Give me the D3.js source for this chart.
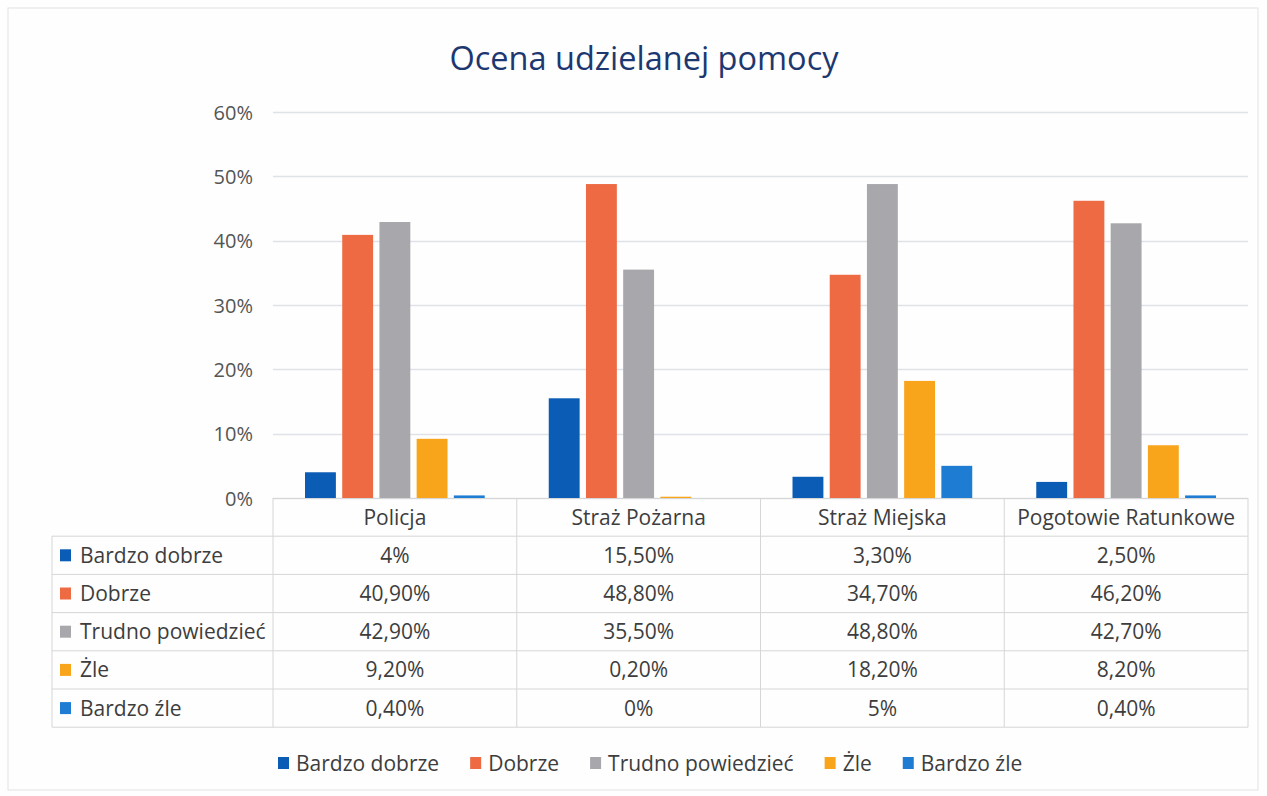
<!DOCTYPE html>
<html lang="pl">
<head>
<meta charset="utf-8">
<script src="https://d3js.org/d3.v7.min.js"></script>
<title>Ocena udzielanej pomocy</title>
<style>
    body { margin: 0; background: #fefefe; }
    text { font-family: "Open Sans", Lato, sans-serif; }
</style>
</head>
<body>
<div id="container"></div>
<script>
    // dane
    var categories = ["Policja", "Straż Pożarna", "Straż Miejska", "Pogotowie Ratunkowe"];
    var seriesNames = ["Bardzo dobrze", "Dobrze", "Trudno powiedzieć", "Żle", "Bardzo źle"];
    var bardzoDobrze = [4, 15.5, 3.3, 2.5];
    var dobrze = [40.9, 48.8, 34.7, 46.2];
    var trudno = [42.9, 35.5, 48.8, 42.7];
    var zle = [9.2, 0.2, 18.2, 8.2];
    var bardzoZle = [0.4, 0, 5, 0.4];
    var yTicks = [0, 10, 20, 30, 40, 50, 60];
    var colors = ["#0b5cb5", "#ed6a43", "#a8a7ab", "#f8a51c", "#1e7dd3"];

    var seriesValues = [bardzoDobrze, dobrze, trudno, zle, bardzoZle];

    var width = 1267, height = 796;
    var plot = {left: 273, right: 1248, top: 112, bottom: 498};
    var tableLeft = 52, rowH = 38.2;
    var fontSize = "21px";
    var textColor = "#3d3d3d";

    var svg = d3.select("#container")
        .append("svg")
        .attr("width", width)
        .attr("height", height);

    // ramka
    svg.append("rect")
        .attr("x", 8).attr("y", 8)
        .attr("width", 1250).attr("height", 782)
        .attr("fill", "none")
        .attr("stroke", "#e2e2e2");

    svg.append("text")
        .attr("x", 644).attr("y", 70)
        .attr("text-anchor", "middle")
        .attr("fill", "#1d3870")
        .style("font-size", "32.5px")
        .text("Ocena udzielanej pomocy");

    var y = d3.scaleLinear()
        .domain([0, 60])
        .range([plot.bottom, plot.top]);

    var x0 = d3.scaleBand()
        .domain(categories)
        .range([plot.left, plot.right]);

    var x1 = d3.scaleBand()
        .domain(seriesNames)
        .range([0, x0.bandwidth()])
        .paddingInner(0.17)
        .paddingOuter(0.86);

    // siatka
    svg.append("g")
        .selectAll("line")
        .data(yTicks)
        .enter()
        .append("line")
        .attr("x1", plot.left).attr("x2", plot.right)
        .attr("y1", function(d) { return Math.round(y(d)) + 0.5; })
        .attr("y2", function(d) { return Math.round(y(d)) + 0.5; })
        .attr("stroke", "#dfe2e6")
        .attr("stroke-width", 1.5);

    var yAxis = svg.append("g")
        .attr("transform", "translate(" + (plot.left - 17) + ",0)")
        .call(d3.axisLeft(y).tickValues(yTicks).tickSize(0).tickFormat(function(d) { return d + "%"; }));
    yAxis.select(".domain").remove();
    yAxis.selectAll("text")
        .attr("fill", "#555555")
        .attr("dy", "0.36em")
        .style("font-size", "20px")
        .style("font-family", "'Open Sans', Lato, sans-serif");

    // słupki
    seriesNames.forEach(function(s, si) {
        svg.append("g")
            .selectAll("rect")
            .data(categories)
            .enter()
            .append("rect")
            .attr("x", function(c) { return x0(c) + x1(s); })
            .attr("width", x1.bandwidth())
            .attr("y", function(c, ci) { return y(seriesValues[si][ci]); })
            .attr("height", function(c, ci) { return plot.bottom - y(seriesValues[si][ci]); })
            .attr("fill", colors[si]);
    });

    // tabela danych
    var fmt = function(v) {
        if (Number.isInteger(v)) return v + "%";
        return v.toFixed(2).replace(".", ",") + "%";
    };
    var lineColor = "#d6d6d6";
    var tableTop = plot.bottom + rowH;
    var tableBottom = tableTop + rowH * seriesNames.length;
    var tbl = svg.append("g");

    // poziome linie
    d3.range(seriesNames.length + 1).forEach(function(i) {
        tbl.append("line")
            .attr("x1", tableLeft).attr("x2", plot.right)
            .attr("y1", tableTop + i * rowH).attr("y2", tableTop + i * rowH)
            .attr("stroke", lineColor);
    });
    tbl.append("line")
        .attr("x1", plot.left).attr("x2", plot.right)
        .attr("y1", plot.bottom + 0.5).attr("y2", plot.bottom + 0.5)
        .attr("stroke", lineColor);
    // pionowe linie
    tbl.append("line")
        .attr("x1", tableLeft).attr("x2", tableLeft)
        .attr("y1", tableTop).attr("y2", tableBottom)
        .attr("stroke", lineColor);
    categories.forEach(function(c) {
        tbl.append("line")
            .attr("x1", x0(c)).attr("x2", x0(c))
            .attr("y1", plot.bottom).attr("y2", tableBottom)
            .attr("stroke", lineColor);
    });
    tbl.append("line")
        .attr("x1", plot.right).attr("x2", plot.right)
        .attr("y1", plot.bottom).attr("y2", tableBottom)
        .attr("stroke", lineColor);

    tbl.selectAll(".cat")
        .data(categories)
        .enter()
        .append("text")
        .attr("x", function(c) { return x0(c) + x0.bandwidth() / 2; })
        .attr("y", plot.bottom + rowH / 2)
        .attr("dy", "0.36em")
        .attr("text-anchor", "middle")
        .attr("fill", textColor)
        .style("font-size", fontSize)
        .text(function(c) { return c; });

    seriesNames.forEach(function(s, si) {
        var cy = tableTop + si * rowH + rowH / 2;
        tbl.append("rect")
            .attr("x", 60).attr("y", cy - 6)
            .attr("width", 11).attr("height", 12)
            .attr("fill", colors[si]);
        tbl.append("text")
            .attr("x", 80).attr("y", cy)
            .attr("dy", "0.36em")
            .attr("fill", textColor)
            .style("font-size", fontSize)
            .text(s);
        tbl.selectAll(".v" + si)
            .data(seriesValues[si])
            .enter()
            .append("text")
            .attr("x", function(v, ci) { return x0(categories[ci]) + x0.bandwidth() / 2; })
            .attr("y", cy)
            .attr("dy", "0.36em")
            .attr("text-anchor", "middle")
            .attr("fill", textColor)
            .style("font-size", fontSize)
            .text(fmt);
    });

    // legenda
    var legend = svg.append("g");
    var lx = 278;
    seriesNames.forEach(function(s, si) {
        var item = legend.append("g").attr("transform", "translate(" + lx + ",763)");
        item.append("rect")
            .attr("x", 0).attr("y", -6)
            .attr("width", 11).attr("height", 12)
            .attr("fill", colors[si]);
        var t = item.append("text")
            .attr("x", 18).attr("y", 0)
            .attr("dy", "0.36em")
            .attr("fill", textColor)
            .style("font-size", fontSize)
            .text(s);
        lx += 18 + t.node().getComputedTextLength() + 31;
    });
</script>
</body>
</html>
